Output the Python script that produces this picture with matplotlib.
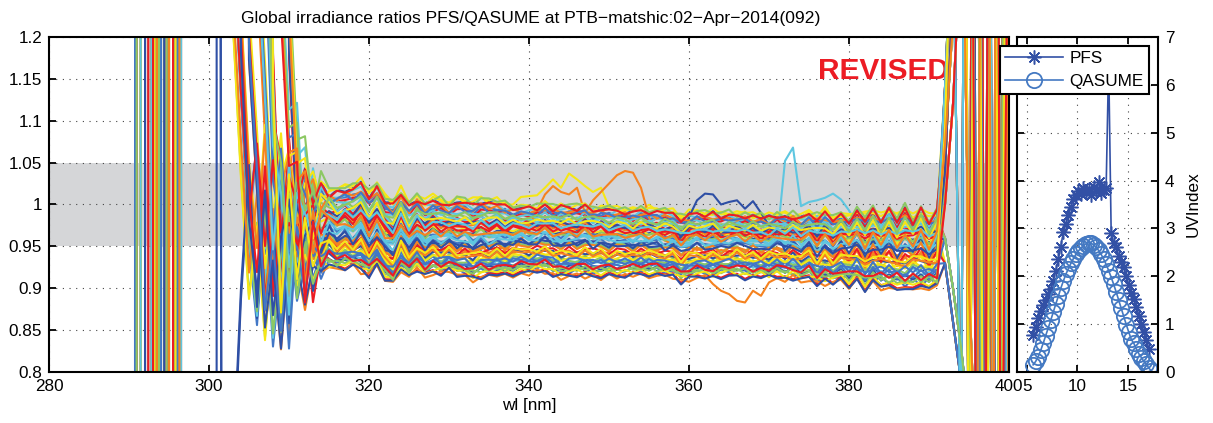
import numpy as np
import matplotlib
matplotlib.use('Agg')
import matplotlib.pyplot as plt

plt.rcParams['font.family'] = ['Liberation Sans', 'DejaVu Sans']
plt.rcParams['font.size'] = 12.3

# ---------------- spectral ratio data ----------------
# wavelength grid of the ratio spectra [nm]
wl = np.arange(290, 401)
OFF_SCALE = 4.0          # ratio value far outside the plotted range

# upper, middle and lower course of the ratio spectra, 302..391 nm (1 nm steps)
top_env = [
    1.020, 1.030, 1.020, 1.025, 1.020, 1.030, 1.020, 1.025, 1.020, 1.020,
    1.017, 1.020, 1.020, 1.015, 1.020, 1.023, 1.025, 1.030, 1.017, 1.027,
    1.011, 1.005, 1.019, 1.003, 1.013, 1.005, 1.010, 1.009, 1.001, 1.010,
    1.007, 1.005, 1.009, 1.007, 1.007, 1.003, 1.001, 0.999, 1.001, 1.000,
    1.003, 1.000, 1.003, 1.000, 1.000, 1.002, 0.998, 1.000, 0.997, 0.997,
    0.996, 0.995, 0.997, 0.996, 0.994, 0.996, 0.993, 0.987, 0.991, 0.993,
    0.992, 0.993, 0.990, 0.992, 0.989, 0.991, 0.989, 0.989, 0.987, 0.990,
    0.989, 0.990, 0.987, 0.991, 0.989, 0.993, 0.986, 0.991, 0.985, 0.994,
    0.989, 0.997, 0.985, 0.996, 0.987, 0.999, 0.985, 0.997, 0.985, 0.993,
]
mid_env = [
    0.960, 0.950, 0.965, 0.955, 0.960, 0.950, 0.962, 0.955, 0.960, 0.955,
    0.955, 0.962, 0.958, 0.966, 0.960, 0.968, 0.958, 0.972, 0.952, 0.968,
    0.950, 0.944, 0.966, 0.948, 0.962, 0.951, 0.958, 0.953, 0.960, 0.952,
    0.956, 0.950, 0.957, 0.953, 0.958, 0.954, 0.957, 0.960, 0.955, 0.958,
    0.962, 0.956, 0.953, 0.958, 0.955, 0.960, 0.954, 0.957, 0.953, 0.956,
    0.955, 0.952, 0.956, 0.953, 0.955, 0.951, 0.954, 0.946, 0.952, 0.955,
    0.951, 0.954, 0.950, 0.953, 0.956, 0.951, 0.954, 0.949, 0.952, 0.955,
    0.950, 0.954, 0.948, 0.956, 0.945, 0.953, 0.944, 0.955, 0.948, 0.958,
    0.942, 0.955, 0.946, 0.957, 0.943, 0.952, 0.947, 0.958, 0.940, 0.955,
]
low_env = [
    0.900, 0.905, 0.900, 0.910, 0.905, 0.900, 0.910, 0.905, 0.910, 0.905,
    0.905, 0.910, 0.915, 0.922, 0.920, 0.921, 0.925, 0.917, 0.913, 0.925,
    0.909, 0.903, 0.921, 0.911, 0.921, 0.913, 0.917, 0.915, 0.919, 0.913,
    0.911, 0.909, 0.911, 0.912, 0.914, 0.912, 0.914, 0.915, 0.916, 0.918,
    0.916, 0.914, 0.912, 0.911, 0.913, 0.912, 0.913, 0.911, 0.912, 0.911,
    0.913, 0.914, 0.913, 0.914, 0.912, 0.913, 0.912, 0.905, 0.909, 0.910,
    0.911, 0.909, 0.911, 0.912, 0.911, 0.910, 0.909, 0.911, 0.910, 0.911,
    0.909, 0.910, 0.907, 0.909, 0.903, 0.905, 0.903, 0.907, 0.901, 0.905,
    0.897, 0.903, 0.901, 0.895, 0.899, 0.893, 0.901, 0.895, 0.901, 0.897,
]

# scan-to-scan ripple on top of the course, 302..391 nm
ripple = [
    [0.0, 0.0, 0.0, 0.0, 0.0, 0.0, 0.0, 0.0, 0.0, 0.0,
     0.004, -0.003, 0.005, -0.002, 0.006, -0.004, 0.002, 0.005, -0.005, 0.003,
     -0.004, 0.006, -0.002, 0.004, -0.006, 0.003, 0.001, -0.004, 0.005, -0.003,
     0.002, 0.004, -0.005, 0.003, -0.002, 0.005, -0.004, 0.001, 0.004, -0.003,
     0.003, -0.005, 0.004, 0.002, -0.004, 0.005, -0.002, -0.003, 0.004, 0.001,
     -0.005, 0.003, 0.002, -0.004, 0.005, -0.001, 0.003, -0.005, 0.004, 0.002,
     -0.003, 0.005, -0.004, 0.001, 0.003, -0.005, 0.004, -0.002, 0.006, -0.003,
     0.002, -0.006, 0.004, 0.003, -0.005, 0.006, -0.002, 0.004, -0.006, 0.005,
     -0.007, 0.006, -0.003, 0.008, -0.006, 0.004, -0.008, 0.007, -0.005, 0.009],
    [0.0, 0.0, 0.0, 0.0, 0.0, 0.0, 0.0, 0.0, 0.0, 0.0,
     0.003, 0.005, -0.004, -0.002, 0.004, 0.006, -0.005, -0.001, 0.003, -0.006,
     0.005, -0.002, -0.004, 0.006, 0.002, -0.005, 0.004, -0.003, -0.001, 0.005,
     -0.004, 0.003, 0.006, -0.005, -0.002, 0.004, -0.003, 0.005, 0.001, -0.004,
     0.006, -0.003, 0.002, -0.005, 0.004, 0.003, -0.006, 0.002, 0.005, -0.004,
     -0.002, 0.005, -0.003, 0.004, 0.006, -0.005, 0.001, 0.003, -0.004, 0.005,
     -0.003, -0.005, 0.006, -0.002, 0.003, 0.005, -0.006, 0.002, -0.004, 0.004,
     0.006, -0.004, -0.002, 0.005, -0.007, 0.004, 0.002, -0.006, 0.007, -0.003,
     0.005, -0.008, 0.006, -0.004, 0.009, -0.005, 0.003, -0.009, 0.006, -0.006],
    [0.0, 0.0, 0.0, 0.0, 0.0, 0.0, 0.0, 0.0, 0.0, 0.0,
     -0.005, 0.002, 0.004, -0.006, 0.003, -0.002, 0.005, -0.004, 0.006, 0.001,
     -0.003, 0.005, -0.006, 0.002, 0.004, -0.003, -0.005, 0.006, -0.002, 0.003,
     0.005, -0.006, 0.001, 0.004, -0.003, 0.006, -0.005, 0.002, -0.004, 0.005,
     -0.001, 0.004, -0.006, 0.003, 0.005, -0.004, 0.002, -0.005, 0.006, -0.002,
     0.004, -0.003, 0.005, -0.006, 0.002, 0.003, -0.004, 0.006, -0.005, 0.001,
     0.005, -0.004, 0.003, 0.006, -0.005, 0.002, -0.003, 0.005, -0.006, 0.004,
     -0.005, 0.007, -0.003, -0.004, 0.006, -0.007, 0.005, 0.002, -0.006, 0.008,
     -0.004, 0.006, -0.009, 0.005, -0.003, 0.008, -0.007, 0.004, -0.008, 0.007],
]
RIPPLE_GAIN = 0.6

# position of every scan inside the spread (0 = lower, 0.5 = middle, 1 = upper)
band_pos = [
    0.95, 0.10, 0.55, 0.80, 0.30, 0.70, 0.05,
    0.62, 0.88, 0.20, 0.45, 1.00, 0.35, 0.75,
    0.15, 0.50, 0.92, 0.25, 0.65, 0.40, 0.85,
    0.33, 0.58, 0.78, 0.12, 0.97, 0.02, 0.68,
    0.48, 0.22, 0.83, 0.60, 0.08, 0.90, 0.38,
    0.73, 0.18, 0.52, 0.98, 0.28, 0.43, 0.66,
    0.03, 0.87, 0.57, 0.13, 0.76, 0.32, 0.94,
    0.46, 0.24, 0.71, 0.82, 0.36, 0.60, 0.16,
]

# wavelength where each scan leaves zero signal
cutoff = [
    290.75, 292.8, 294.7, 291.45, 293.5, 295.5, 292.0, 294.0, 296.5, 290.95,
    293.2, 295.0, 292.4, 294.4, 296.1, 291.45, 293.75, 295.8, 290.75, 292.8,
    294.7, 300.95, 293.5, 295.5, 292.0, 294.0, 296.5, 290.95, 293.2, 295.0,
    292.4, 294.4, 296.1, 291.45, 293.75, 295.8, 290.75, 292.8, 294.7, 291.45,
    293.5, 295.5, 292.0, 294.0, 296.5, 290.95, 293.2, 295.0, 292.4, 294.4,
    296.1, 291.45, 293.75, 295.8, 296.3, 293.0,
]

# short-wave noise, deviation from the course at 302..316 nm
short_noise = [
    [3, 0.30, 0.12, -0.03, 0.06, -0.07, 0.04, -0.05, 0.02, -0.01, 0.03, -0.01, 0.01, 0.0, 0.0],
    [3, 3, 0.22, 0.03, -0.06, 0.07, -0.09, 0.01, 0.05, -0.03, 0.01, 0.02, -0.01, 0.005, 0.0],
    [3, 3, 3, 0.26, 0.11, -0.05, 0.02, -0.08, 0.03, 0.02, -0.03, 0.015, 0.0, 0.005, 0.0],
    [3, 3, 3, 3, 0.32, 0.14, -0.04, 0.06, -0.06, 0.03, 0.01, -0.02, 0.01, 0.0, 0.0],
    [3, 3, 3, 3, 3, 0.40, 0.10, 0.05, -0.10, 0.05, 0.0, 0.02, -0.015, 0.01, 0.0],
    [3, 3, 3, 3, 3, 3, 0.19, -0.07, 0.09, -0.03, 0.04, -0.02, 0.01, 0.0, 0.0],
    [3, 3, 3, 3, 3, 3, 3, 3, 0.26, 0.06, 0.07, -0.03, 0.02, 0.01, 0.0],
    [3, 3, 3, 3, 3, 3, 3, 0.30, 0.12, 0.13, -0.04, 0.05, 0.0, 0.01, 0.0],
]
# two scans that fall below zero just before 302 nm
short_dip = [-3, -0.30, -0.09, 0.06, -0.11, 0.03, -0.08, 0.04, -0.05, 0.02, -0.02, 0.01, 0.0, 0.0, 0.0]
dip_scans = [7, 35]

# long-wave end of the scans, ratio at 392..400 nm
long_end = [
    [1.10, 1.45, 2.6, 0.55, 3.0, 0.40, 2.0, 0.50, 4.0],
    [1.04, 1.26, 1.9, 3.0, 0.50, 2.5, 0.30, 3.0, 1.0],
    [0.93, 0.86, 0.79, 0.62, 2.0, 0.50, 3.0, 0.20, 2.0],
    [1.14, 1.36, 0.68, 2.5, 0.40, 3.0, 0.60, 2.0, 0.30],
    [0.96, 0.90, 0.83, 0.74, 1.5, 0.30, 2.5, 0.70, 3.0],
    [1.09, 1.42, 3.0, 0.50, 2.0, 0.20, 1.8, 0.40, 2.2],
    [1.07, 1.22, 1.5, 0.90, 0.66, 2.2, 0.50, 3.0, 0.60],
    [1.00, 1.12, 1.32, 2.0, 0.50, 0.45, 3.0, 0.50, 1.5],
]

# scans with their own features: index -> (start wavelength, ratios)
special = {
    11: (338, [1.0, 1.009, 1.01, 1.011, 1.02, 1.03, 1.02, 1.037, 1.03, 1.022,
               1.015, 1.02, 0.997]),
    19: (338, [0.945, 0.957, 0.975, 0.993, 1.012, 1.022, 1.015, 1.012, 1.02, 0.99,
               1.005, 1.015, 1.025, 1.035, 1.04, 1.038, 1.02, 0.985, 0.965, 0.957, 0.952]),
    2: (371, [0.957, 1.052, 1.068, 0.998, 1.003, 1.005, 1.008, 1.013, 1.006, 0.993, 0.975]),
    28: (358, [0.952, 0.962, 0.985, 1.005, 1.013, 1.012, 1.0, 1.003, 1.005, 0.995,
               1.004, 0.99, 0.975, 0.965]),
    26: (363, [0.905, 0.897, 0.893, 0.885, 0.883, 0.897, 0.891, 0.907, 0.912]),
}

line_colors = ['#2e4fa5', '#4277c6', '#5ec6e0', '#8cc863', '#f5e616', '#f5821f', '#ec1c24']

# ---------------- UV index data ----------------
hours = [5.6, 5.85, 6.1, 6.35, 6.6, 6.85, 7.1, 7.35, 7.6, 7.85, 8.1, 8.35, 8.6, 8.85,
         9.1, 9.35, 9.6, 9.85, 10.1, 10.35, 10.6, 10.85, 11.1, 11.35, 11.6, 11.85,
         12.1, 12.35, 12.6, 12.85, 13.1, 13.35, 13.6, 13.85, 14.1, 14.35, 14.6, 14.85,
         15.1, 15.35, 15.6, 15.85, 16.1, 16.35, 16.6, 16.85, 17.1]
uvi_pfs = [0.77, 0.95, 1.12, 1.28, 1.40, 1.50, 1.62, 1.74, 1.90, 2.12, 2.36, 2.62, 2.93, 3.10,
           3.28, 3.45, 3.62, 3.70, 3.78, 3.72, 3.84, 3.76, 3.82, 3.70, 3.86, 3.78,
           3.98, 3.74, 3.80, 3.84, 6.50, 2.90, 2.70, 2.62, 2.42, 2.30, 2.20, 2.00,
           1.82, 1.66, 1.52, 1.36, 1.18, 1.00, 0.84, 0.66, 0.48]
hours_q = hours + [17.35]
uvi_qasume = [0.15, 0.22, 0.32, 0.45, 0.60, 0.76, 0.92, 1.08, 1.25, 1.42, 1.58, 1.75, 1.90, 2.04,
              2.16, 2.27, 2.37, 2.46, 2.53, 2.59, 2.64, 2.68, 2.70, 2.69, 2.66, 2.61,
              2.54, 2.46, 2.36, 2.25, 2.12, 1.98, 1.83, 1.67, 1.50, 1.33, 1.16, 0.99,
              0.83, 0.68, 0.60, 0.48, 0.38, 0.30, 0.22, 0.16, 0.08, 0.02]

# ---------------- figure ----------------
W, H = 1213, 423
fig = plt.figure(figsize=(W / 100, H / 100), dpi=100)
ax = fig.add_axes([49 / W, 1 - 372 / H, 960 / W, 335 / H])
ax2 = fig.add_axes([1017 / W, 1 - 372 / H, 141 / W, 335 / H])

grid_style = dict(color='#444444', linestyle=(0, (1, 5)), linewidth=0.8)

# ratio spectra
ax.axhspan(0.95, 1.05, color='#d5d6d8', zorder=0.2, lw=0)
top = np.array(top_env)
mid = np.array(mid_env)
low = np.array(low_env)
for i in range(len(band_pos)):
    p = band_pos[i]
    v = np.full(wl.size, OFF_SCALE)
    if p <= 0.5:
        v[12:102] = low + (p / 0.5) * (mid - low)
    else:
        v[12:102] = mid + ((p - 0.5) / 0.5) * (top - mid)
    sign = 1 if (i // 3) % 2 == 0 else -1
    v[12:102] += sign * RIPPLE_GAIN * np.array(ripple[i % 3])
    noise = short_dip if i in dip_scans else short_noise[i % len(short_noise)]
    v[12:27] += np.array(noise)
    v[102:] = long_end[i % len(long_end)]
    if i in special:
        start, seg = special[i]
        k = start - 290
        v[k:k + len(seg)] = seg
    c = cutoff[i]
    keep = wl > c + 0.02
    x = np.concatenate([[290, c, c + 0.02], wl[keep]])
    y = np.concatenate([[0.0, 0.0, OFF_SCALE], v[keep]])
    ax.plot(x, y, color=line_colors[i % len(line_colors)], lw=1.5, zorder=2)

ax.set_xlim(280, 400)
ax.set_ylim(0.8, 1.2)
ax.set_xticks(range(280, 401, 20))
ax.set_yticks(np.arange(0.8, 1.201, 0.05))
ax.set_yticklabels(['0.8', '0.85', '0.9', '0.95', '1', '1.05', '1.1', '1.15', '1.2'])
ax.grid(True, **grid_style)
ax.set_axisbelow(True)
ax.tick_params(direction='in', top=True, right=True, length=5, width=1.3, pad=5)
for s in ax.spines.values():
    s.set_linewidth(1.5)
ax.set_xlabel('wl [nm]', labelpad=3)
ax.text(376.1, 1.16, 'REVISED', color='#ec1c24', fontsize=21.5, fontweight='bold',
        va='center', ha='left', zorder=1)
fig.text(531 / W, 1 - 18 / H,
         'Global irradiance ratios PFS/QASUME at PTB\u2212matshic:02\u2212Apr\u22122014(092)',
         ha='center', va='center', fontsize=12.6)

# UV index panel
ax2.plot(hours, uvi_pfs, color='#3250a5', marker=(8, 2, 0), ms=10, mew=1.1, lw=1.2,
         label='PFS')
ax2.plot(hours_q, uvi_qasume, color='#4479c2', marker='o', ms=11, mew=1.3, mfc='none',
         lw=1.2, label='QASUME')
ax2.set_xlim(4, 18)
ax2.set_ylim(0, 7)
ax2.set_xticks([5, 10, 15])
ax2.set_yticks(range(0, 8))
ax2.grid(True, **grid_style)
ax2.yaxis.set_label_position('right')
ax2.set_ylabel('UVIndex', labelpad=8)
ax2.tick_params(direction='in', top=True, left=True, right=True, labelleft=False,
                labelright=True, length=5, width=1.3, pad=5)
for s in ax2.spines.values():
    s.set_linewidth(1.5)

h, l = ax2.get_legend_handles_labels()
leg = fig.legend(h, l, loc='upper right', bbox_to_anchor=(1149 / W, 1 - 46 / H),
                 frameon=True, fancybox=False, framealpha=1, edgecolor='black',
                 borderaxespad=0, handlelength=3.4, borderpad=0.3, labelspacing=0.45,
                 handletextpad=0.4)
leg.get_frame().set_linewidth(1.5)

fig.savefig('out.png', dpi=100)
